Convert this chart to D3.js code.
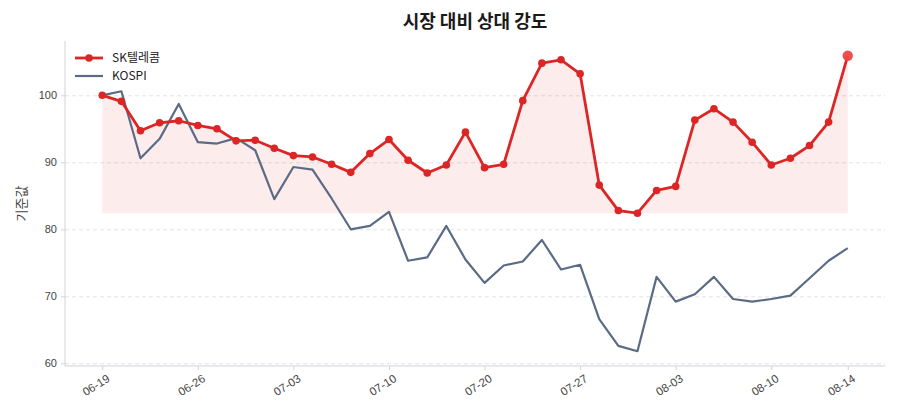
<!DOCTYPE html>
<html>
<head>
<meta charset="utf-8">
<script src="https://cdn.jsdelivr.net/npm/d3@7"></script>
<style>
    body { margin: 0; background: #fff; }
    svg { font-family: "Noto Sans CJK KR", "Noto Sans", sans-serif; }
    .grid line { stroke: #e3e3e3; stroke-dasharray: 4 3; }
    .grid path { display: none; }
    .axis path, .axis line { stroke: #cfd3dc; }
    .axis text { fill: #444; font-size: 11px; }
    .x-axis text { font-size: 11.5px; }
</style>
</head>
<body>
<div id="chart"></div>
<script>
// Trading-day labels (axis is by index)
const dates = [
    '06-19', '06-20', '06-21', '06-22', '06-23',
    '06-26', '06-27', '06-28', '06-29', '06-30',
    '07-03', '07-04', '07-05', '07-06', '07-07',
    '07-10', '07-11', '07-13', '07-17', '07-18',
    '07-20', '07-21', '07-24', '07-25', '07-26',
    '07-27', '07-28', '07-31', '08-01', '08-02',
    '08-03', '08-04', '08-07', '08-08', '08-09',
    '08-10', '08-11', '08-12', '08-13', '08-14',
];
const tickIndex = [0, 5, 10, 15, 20, 25, 30, 35, 39];

const skt = [
    100.0, 99.1, 94.7, 95.9, 96.2, 95.5, 95.0, 93.2, 93.3, 92.1,
    91.0, 90.8, 89.7, 88.5, 91.3, 93.4, 90.3, 88.4, 89.6, 94.5,
    89.2, 89.7, 99.2, 104.8, 105.3, 103.2, 86.6, 82.8, 82.4, 85.8,
    86.4, 96.3, 98.0, 96.0, 93.0, 89.6, 90.6, 92.5, 96.0, 105.9,
];
const kospi = [
    100.0, 100.6, 90.6, 93.5, 98.7, 93.0, 92.8, 93.6, 91.8, 84.5,
    89.3, 88.9, 84.6, 80.0, 80.5, 82.6, 75.3, 75.8, 80.5, 75.5,
    72.0, 74.6, 75.2, 78.4, 74.0, 74.7, 66.6, 62.6, 61.8, 72.9,
    69.2, 70.3, 72.9, 69.6, 69.2, 69.6, 70.1, 72.7, 75.3, 77.2,
];
const yTicks = [60, 70, 80, 90, 100];

const W = 900, H = 420;
const margin = { top: 41, right: 15, bottom: 54, left: 65 };
const width = W - margin.left - margin.right;
const height = H - margin.top - margin.bottom;

const svg = d3.select('#chart').append('svg')
    .attr('width', W)
    .attr('height', H);

const g = svg.append('g')
    .attr('transform', `translate(${margin.left},${margin.top})`);

// matplotlib-like 5% padding
const n = skt.length;
const xPad = (n - 1) * 0.05;
const x = d3.scaleLinear().domain([-xPad, n - 1 + xPad]).range([0, width]);

const allVals = skt.concat(kospi);
const lo = d3.min(allVals), hi = d3.max(allVals);
const yPad = (hi - lo) * 0.05;
const y = d3.scaleLinear().domain([lo - yPad, hi + yPad]).range([height, 0]);

// grid
g.append('g')
    .attr('class', 'grid')
    .call(d3.axisLeft(y).tickValues(yTicks).tickSize(-width).tickFormat(''));

// fill under SKT down to its minimum
const base = d3.min(skt);
g.append('path')
    .datum(skt)
    .attr('fill', '#dc2626')
    .attr('fill-opacity', 0.085)
    .attr('d', d3.area()
        .x((d, i) => x(i))
        .y0(y(base))
        .y1(d => y(d)));

// KOSPI
g.append('path')
    .datum(kospi)
    .attr('fill', 'none')
    .attr('stroke', '#5b6b85')
    .attr('stroke-width', 2.2)
    .attr('stroke-linejoin', 'round')
    .attr('d', d3.line().x((d, i) => x(i)).y(d => y(d)));

// SKT
g.append('path')
    .datum(skt)
    .attr('fill', 'none')
    .attr('stroke', '#dc2626')
    .attr('stroke-width', 2.8)
    .attr('stroke-linejoin', 'round')
    .attr('d', d3.line().x((d, i) => x(i)).y(d => y(d)));

g.selectAll('.dot')
    .data(skt.slice(0, n - 1))
    .join('circle')
    .attr('class', 'dot')
    .attr('cx', (d, i) => x(i))
    .attr('cy', d => y(d))
    .attr('r', 3.8)
    .attr('fill', '#dc2626');

// highlight last point
g.append('circle')
    .attr('cx', x(n - 1))
    .attr('cy', y(skt[n - 1]))
    .attr('r', 5.2)
    .attr('fill', '#ef4444')
    .attr('fill-opacity', 0.95);

// axes
g.append('g')
    .attr('class', 'axis')
    .call(d3.axisLeft(y).tickValues(yTicks).tickSize(4).tickPadding(4))
    .call(s => s.select('.domain').attr('d', `M0,0V${height}`));

g.append('g')
    .attr('class', 'axis x-axis')
    .attr('transform', `translate(0,${height})`)
    .call(d3.axisBottom(x).tickValues(tickIndex).tickFormat(i => dates[i]).tickSize(4).tickPadding(4))
    .call(s => s.select('.domain').attr('d', `M0,0H${width}`))
    .selectAll('text')
    .attr('text-anchor', 'end')
    .attr('dx', '-0.1em')
    .attr('dy', '0.75em')
    .attr('transform', 'rotate(-32)');

// y label
g.append('text')
    .attr('transform', 'rotate(-90)')
    .attr('x', -height / 2)
    .attr('y', -39)
    .attr('text-anchor', 'middle')
    .attr('fill', '#444')
    .attr('font-size', 13)
    .text('기준값');

// title
svg.append('text')
    .attr('x', margin.left + width / 2)
    .attr('y', 28)
    .attr('text-anchor', 'middle')
    .attr('font-size', 18)
    .attr('font-weight', 'bold')
    .attr('fill', '#1a1a1a')
    .text('시장 대비 상대 강도');

// legend
const legend = g.append('g').attr('transform', 'translate(10,17)');
const items = [
    { name: 'SK텔레콤', color: '#dc2626', marker: true, w: 2.8 },
    { name: 'KOSPI', color: '#5b6b85', marker: false, w: 2.2 },
];
items.forEach((it, i) => {
    const row = legend.append('g').attr('transform', `translate(0,${i * 18})`);
    row.append('line')
        .attr('x1', 0).attr('x2', 28)
        .attr('stroke', it.color)
        .attr('stroke-width', it.w);
    if (it.marker) {
        row.append('circle').attr('cx', 14).attr('r', 3.8).attr('fill', it.color);
    }
    row.append('text')
        .attr('x', 37)
        .attr('dy', '0.35em')
        .attr('font-size', 12)
        .attr('fill', '#222')
        .text(it.name);
});
</script>
</body>
</html>
